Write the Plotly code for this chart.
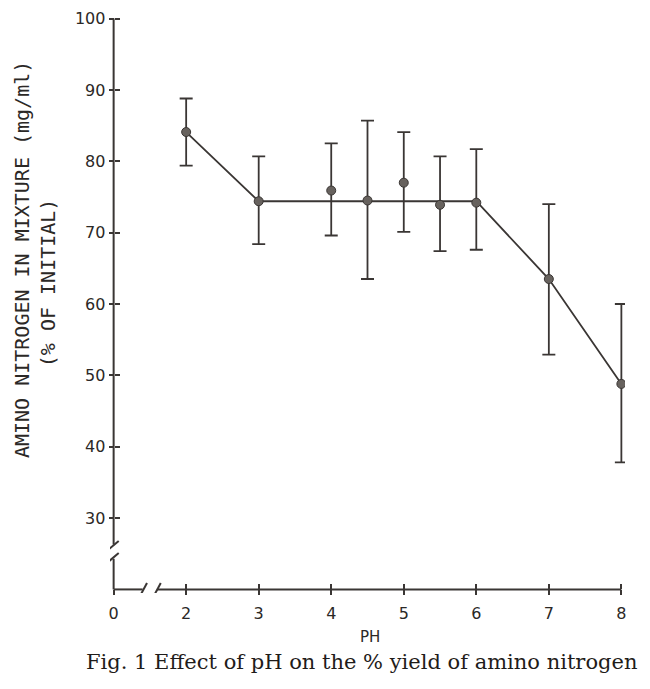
import plotly.graph_objects as go

# pH values and amino nitrogen yield (% of initial)
ph = [2, 3, 4, 4.5, 5, 5.5, 6, 7, 8]
amino = [84.1, 74.4, 75.9, 74.5, 77.0, 73.9, 74.2, 63.5, 48.8]
err_hi = [88.8, 80.7, 82.5, 85.7, 84.1, 80.7, 81.7, 74.0, 60.0]
err_lo = [79.4, 68.4, 69.6, 63.5, 70.1, 67.4, 67.6, 52.9, 37.8]

# hand drawn trend line
fit_ph = [2, 3, 6, 7, 8]
fit_amino = [84.1, 74.4, 74.4, 63.5, 48.8]

x_tickvals = [1, 2, 3, 4, 5, 6, 7, 8]
x_ticktext = ["0", "2", "3", "4", "5", "6", "7", "8"]
y_tickvals = [30, 40, 50, 60, 70, 80, 90, 100]

ink = "#3a3634"
text_col = "#2b2826"

X_RANGE = [0.95, 8.05]
Y_RANGE = [19.5, 100.5]
x_pos = (20 - Y_RANGE[0]) / (Y_RANGE[1] - Y_RANGE[0])
y_pos = (1 - X_RANGE[0]) / (X_RANGE[1] - X_RANGE[0])

fig = go.Figure()

fig.add_trace(
    go.Scatter(
        x=fit_ph,
        y=fit_amino,
        mode="lines",
        line=dict(color=ink, width=1.8),
        hoverinfo="skip",
        showlegend=False,
    )
)

fig.add_trace(
    go.Scatter(
        x=ph,
        y=amino,
        mode="markers",
        marker=dict(size=9, color="#67625e", line=dict(color=ink, width=1)),
        error_y=dict(
            type="data",
            symmetric=False,
            array=[h - a for h, a in zip(err_hi, amino)],
            arrayminus=[a - l for a, l in zip(amino, err_lo)],
            color=ink,
            thickness=1.8,
            width=6.5,
        ),
        showlegend=False,
    )
)

# empty trace so the overlay axes (inner half of the crossing ticks) get drawn
fig.add_trace(go.Scatter(x=[], y=[], xaxis="x2", yaxis="y2", showlegend=False))

# axis lines with break marks
brk = dict(color=ink, width=2)
axis_shapes = [
    # y axis, upper part
    dict(type="line", x0=1, x1=1, y0=100, y1=26.3),
    dict(type="line", x0=0.93, x1=1.07, y0=25.6, y1=26.8),
    dict(type="line", x0=0.93, x1=1.07, y0=23.9, y1=25.1),
    # y axis, lower stub
    dict(type="line", x0=1, x1=1, y0=24.3, y1=20),
    # x axis, left stub
    dict(type="line", x0=1, x1=1.40, y0=20, y1=20),
    dict(type="line", x0=1.37, x1=1.46, y0=19.2, y1=20.9),
    dict(type="line", x0=1.56, x1=1.65, y0=19.2, y1=20.9),
    # x axis, main part
    dict(type="line", x0=1.60, x1=8, y0=20, y1=20),
]
for s in axis_shapes:
    s.update(xref="x", yref="y", line=brk, layer="above")
fig.update_layout(shapes=axis_shapes)

tick_font = dict(family="DejaVu Sans", size=16, color=text_col)
common = dict(
    ticklen=5,
    tickwidth=1.5,
    tickcolor=ink,
    showgrid=False,
    zeroline=False,
    showline=False,
    automargin=False,
    anchor="free",
)

# page body has an 8px default margin, so the margins are shifted to compensate
fig.update_layout(
    width=650,
    height=689,
    margin=dict(l=102, r=33, t=7, b=104, autoexpand=False),
    paper_bgcolor="white",
    plot_bgcolor="white",
    xaxis=dict(
        range=X_RANGE,
        tickvals=x_tickvals,
        ticktext=x_ticktext,
        ticks="outside",
        tickfont=tick_font,
        ticklabelstandoff=4,
        ticklabeloverflow="allow",
        position=x_pos,
        **common,
    ),
    yaxis=dict(
        range=Y_RANGE,
        tickvals=y_tickvals,
        ticks="outside",
        tickfont=tick_font,
        ticklabeloverflow="allow",
        position=y_pos,
        **common,
    ),
    xaxis2=dict(
        range=X_RANGE,
        tickvals=x_tickvals[1:],
        ticks="inside",
        showticklabels=False,
        overlaying="x",
        position=x_pos,
        **common,
    ),
    yaxis2=dict(
        range=Y_RANGE,
        tickvals=y_tickvals,
        ticks="inside",
        showticklabels=False,
        overlaying="y",
        position=y_pos,
        **common,
    ),
)

label_font = dict(family="DejaVu Sans Mono", size=20, color=text_col)
fig.add_annotation(
    text="AMINO NITROGEN IN MIXTURE (mg/ml)",
    xref="paper", yref="paper", x=0, y=0.576, xshift=-88,
    xanchor="center", yanchor="middle",
    textangle=-90, showarrow=False, font=label_font,
)
fig.add_annotation(
    text="(% OF INITIAL)",
    xref="paper", yref="paper", x=0, y=0.536, xshift=-62,
    xanchor="center", yanchor="middle",
    textangle=-90, showarrow=False, font=label_font,
)
fig.add_annotation(
    text="PH",
    xref="paper", yref="paper", x=0.505, y=0, yshift=-44,
    xanchor="center", yanchor="middle",
    showarrow=False, font=dict(family="DejaVu Sans", size=15, color=text_col),
)
fig.add_annotation(
    text="Fig. 1 Effect of pH on the % yield of amino nitrogen",
    xref="paper", yref="paper", x=0.489, y=0, yshift=-69,
    xanchor="center", yanchor="middle",
    showarrow=False, font=dict(family="DejaVu Serif", size=21, color="#1f1c1a"),
)

fig.write_html("out.html")
